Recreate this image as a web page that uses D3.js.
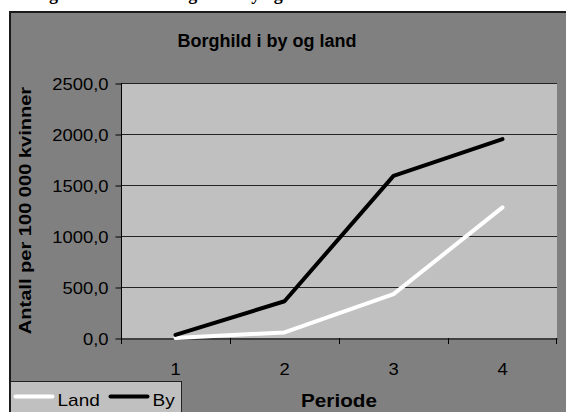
<!DOCTYPE html>
<html>
<head>
<meta charset="utf-8">
<script src="https://cdn.jsdelivr.net/npm/d3@7"></script>
<style>
  body { margin: 0; background: #fff; }
  svg { display: block; }
  text { font-family: "Liberation Sans", Arial, sans-serif; }
</style>
</head>
<body>
<script>
var periods = [1, 2, 3, 4];
var land = [0, 55, 430, 1280];
var by = [30, 360, 1590, 1950];
var yTicks = [0, 500, 1000, 1500, 2000, 2500];
var seriesNames = ["Land", "By"];
var seriesColors = ["#ffffff", "#000000"];

var width = 566,
    height = 412;

var svg = d3.select("body").append("svg")
    .attr("width", width).attr("height", height);

// old screen fonts render wider than Arial, so stretch text sideways
function stretch(sel, s) {
  sel.each(function() {
    var t = d3.select(this);
    var x0 = +t.attr("x") || 0;
    t.attr("transform", "translate(" + (x0 * (1 - s)) + ",0) scale(" + s + ",1)");
  });
}

// caption of the page above, clipped by the window
svg.append("text")
    .attr("x", 33).attr("y", 0)
    .style("font-family", "'Liberation Serif', 'Times New Roman', serif")
    .style("font-weight", "bold").style("font-size", "18px")
    .text("Figur 3: Navnet Borghild i by og land");

// chart area
svg.append("rect")
    .attr("x", 10).attr("y", 12)
    .attr("width", width).attr("height", height)
    .attr("fill", "#808080")
    .attr("stroke", "#1a1a1a").attr("stroke-width", 2);

var plot = { left: 121, top: 83, right: 557, bottom: 338 };

var x = d3.scaleBand().domain(periods).range([plot.left, plot.right]);
var y = d3.scaleLinear().domain([0, 2500]).range([plot.bottom, plot.top]);

svg.append("rect")
    .attr("x", plot.left).attr("y", plot.top)
    .attr("width", plot.right - plot.left).attr("height", plot.bottom - plot.top)
    .attr("fill", "#c0c0c0");

// gridlines
svg.append("g").selectAll("line")
  .data(yTicks.slice(1))
  .enter().append("line")
    .attr("x1", plot.left).attr("x2", plot.right)
    .attr("y1", function(d) { return y(d) + 0.5; })
    .attr("y2", function(d) { return y(d) + 0.5; })
    .attr("stroke", "#222").attr("stroke-width", 1);

// y axis
var yAxis = svg.append("g")
    .attr("transform", "translate(" + (plot.left + 0.5) + ",0.5)")
    .call(d3.axisLeft(y).tickValues(yTicks).tickSize(6).tickPadding(7)
      .tickFormat(function(d) { return d3.format(".1f")(d).replace(".", ","); }));
yAxis.select(".domain").attr("stroke", "#000").attr("d", "M0," + (plot.top - 0.5) + "V" + (plot.bottom - 0.5));
yAxis.selectAll(".tick line").attr("stroke", "#000");
yAxis.selectAll("text")
    .style("font-size", "16px").attr("fill", "#000")
    .attr("dy", "0.36em")
    .call(stretch, 1.15);

// x axis
var xAxis = svg.append("g")
    .attr("transform", "translate(0," + (plot.bottom + 0.5) + ")")
    .call(d3.axisBottom(x).tickSize(0).tickPadding(25));
xAxis.select(".domain").attr("stroke", "#000");
xAxis.selectAll("text").style("font-size", "16px").attr("fill", "#000")
    .call(stretch, 1.15);

// category boundary ticks
svg.append("g").selectAll("line")
  .data(periods.concat([5]))
  .enter().append("line")
    .attr("x1", function(d, i) { return i < periods.length ? Math.round(x(d)) + 0.5 : plot.right - 0.5; })
    .attr("x2", function(d, i) { return i < periods.length ? Math.round(x(d)) + 0.5 : plot.right - 0.5; })
    .attr("y1", plot.bottom).attr("y2", plot.bottom + 6)
    .attr("stroke", "#000");

// lines
var line = d3.line()
    .x(function(d, i) { return x(periods[i]) + x.bandwidth() / 2; })
    .y(function(d) { return y(d); });

[land, by].forEach(function(s, i) {
  svg.append("path")
      .datum(s)
      .attr("fill", "none")
      .attr("stroke", seriesColors[i])
      .attr("stroke-width", 4)
      .attr("stroke-linejoin", "round")
      .attr("stroke-linecap", "round")
      .attr("d", line);
});

// titles
svg.append("text")
    .attr("x", 267).attr("y", 47)
    .attr("text-anchor", "middle")
    .style("font-size", "18px").style("font-weight", "bold")
    .text("Borghild i by og land");

svg.append("text")
    .attr("transform", "translate(31," + ((plot.top + plot.bottom) / 2) + ") rotate(-90) scale(1.18,1)")
    .attr("text-anchor", "middle")
    .style("font-size", "17px").style("font-weight", "bold")
    .text("Antall per 100 000 kvinner");

svg.append("text")
    .attr("x", (plot.left + plot.right) / 2).attr("y", 407)
    .attr("text-anchor", "middle")
    .style("font-size", "18px").style("font-weight", "bold")
    .text("Periode")
    .call(stretch, 1.15);

// legend
var legend = svg.append("g").attr("transform", "translate(10.5,381.5)");
legend.append("rect")
    .attr("width", 171).attr("height", 40)
    .attr("fill", "#c0c0c0").attr("stroke", "#222");

var legendX = [5, 100];
var items = legend.selectAll("g.item")
  .data(seriesNames)
  .enter().append("g")
    .attr("class", "item")
    .attr("transform", function(d, i) { return "translate(" + legendX[i] + ",15)"; });
items.append("line")
    .attr("x1", 0).attr("x2", 37)
    .attr("stroke", function(d, i) { return seriesColors[i]; })
    .attr("stroke-width", 4).attr("stroke-linecap", "round");
items.append("text")
    .attr("x", 42).attr("y", 9)
    .style("font-size", "17px")
    .text(function(d) { return d; })
    .call(stretch, 1.12);
</script>
</body>
</html>
